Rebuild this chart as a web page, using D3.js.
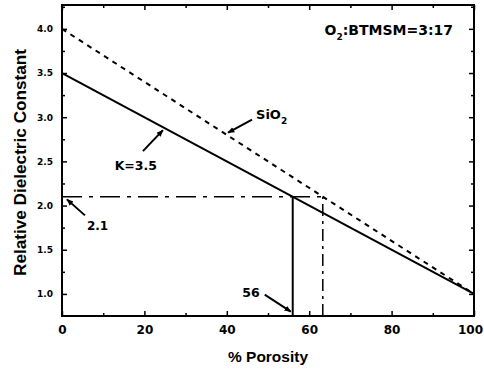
<!DOCTYPE html>
<html>
<head>
<meta charset="utf-8">
<script src="https://cdn.jsdelivr.net/npm/d3@7"></script>
<style>
  body { margin: 0; background: #fff; }
  svg { display: block; }
</style>
</head>
<body>
<div id="chart"></div>
<script>
// data
const porosity = [0, 100];
const kFilm = [3.5, 1.0];      // K=3.5 matrix
const kSiO2 = [4.0, 1.0];      // SiO2 matrix
const targetK = 2.1;
const porFilm = 56;
const porSiO2 = 63.3;
const xMajor = [0, 20, 40, 60, 80, 100];
const xMinor = [10, 30, 50, 70, 90];
const yMajor = [1.0, 1.5, 2.0, 2.5, 3.0, 3.5, 4.0];
const yMinor = [1.25, 1.75, 2.25, 2.75, 3.25, 3.75, 4.25];

const width = 484, height = 374;
const plotLeft = 62, plotRight = 474, plotTop = 5, plotBottom = 316;

const svg = d3.select("#chart").append("svg")
    .attr("width", width)
    .attr("height", height);

svg.append("rect").attr("width", width).attr("height", height).attr("fill", "#fff");

const x = d3.scaleLinear().domain([0, 100]).range([plotLeft, plotRight]);
const y = d3.scaleLinear().domain([0.75, 4.27]).range([plotBottom, plotTop]);

const tickFont = "DejaVu Sans, sans-serif";

// axes: ticks point inward
function styleAxis(g) {
    g.select(".domain").remove();
    g.selectAll("line").attr("stroke", "#000").attr("stroke-width", 1.5);
}

svg.append("g").attr("transform", `translate(0,${plotBottom})`)
    .call(d3.axisBottom(x).tickValues(xMajor).tickSize(-5).tickPadding(9).tickFormat(d3.format("d")))
    .call(styleAxis)
    .call(g => g.selectAll("text").attr("font-family", tickFont).attr("font-weight", "bold").attr("font-size", 12)
        .attr("dx", d => d === 100 ? -4 : 0));
svg.append("g").attr("transform", `translate(0,${plotBottom})`)
    .call(d3.axisBottom(x).tickValues(xMinor).tickSize(-3).tickFormat(""))
    .call(styleAxis);
svg.append("g").attr("transform", `translate(0,${plotTop})`)
    .call(d3.axisTop(x).tickValues(xMajor).tickSize(-5).tickFormat(""))
    .call(styleAxis);
svg.append("g").attr("transform", `translate(0,${plotTop})`)
    .call(d3.axisTop(x).tickValues(xMinor).tickSize(-3).tickFormat(""))
    .call(styleAxis);

svg.append("g").attr("transform", `translate(${plotLeft},0)`)
    .call(d3.axisLeft(y).tickValues(yMajor).tickSize(-5).tickPadding(9).tickFormat(d3.format(".1f")))
    .call(styleAxis)
    .call(g => g.selectAll("text").attr("font-family", tickFont).attr("font-weight", "bold").attr("font-size", 9));
svg.append("g").attr("transform", `translate(${plotLeft},0)`)
    .call(d3.axisLeft(y).tickValues(yMinor).tickSize(-3).tickFormat(""))
    .call(styleAxis);
svg.append("g").attr("transform", `translate(${plotRight},0)`)
    .call(d3.axisRight(y).tickValues(yMajor).tickSize(-5).tickFormat(""))
    .call(styleAxis);
svg.append("g").attr("transform", `translate(${plotRight},0)`)
    .call(d3.axisRight(y).tickValues(yMinor).tickSize(-3).tickFormat(""))
    .call(styleAxis);

// frame
svg.append("rect")
    .attr("x", plotLeft).attr("y", plotTop)
    .attr("width", plotRight - plotLeft).attr("height", plotBottom - plotTop)
    .attr("fill", "none").attr("stroke", "#000").attr("stroke-width", 2);

// lines
const line = d3.line().x(d => x(d[0])).y(d => y(d[1]));

svg.append("path")
    .datum(d3.zip(porosity, kSiO2))
    .attr("d", line)
    .attr("fill", "none").attr("stroke", "#000").attr("stroke-width", 2)
    .attr("stroke-dasharray", "5,5");

svg.append("path")
    .datum(d3.zip(porosity, kFilm))
    .attr("d", line)
    .attr("fill", "none").attr("stroke", "#000").attr("stroke-width", 2);

// guide lines at K = 2.1
svg.append("path")
    .datum([[0, targetK], [porSiO2 + 0.5, targetK]])
    .attr("d", line)
    .attr("fill", "none").attr("stroke", "#000").attr("stroke-width", 1.5)
    .attr("stroke-dasharray", "20,7,4,7");

svg.append("path")
    .datum([[porFilm, 0.75], [porFilm, targetK]])
    .attr("d", line)
    .attr("fill", "none").attr("stroke", "#000").attr("stroke-width", 2);

svg.append("path")
    .datum([[porSiO2, 0.75], [porSiO2, targetK]])
    .attr("d", line)
    .attr("fill", "none").attr("stroke", "#000").attr("stroke-width", 1.5)
    .attr("stroke-dasharray", "12,5,3,5");

// arrow marker
svg.append("defs").append("marker")
    .attr("id", "arrow")
    .attr("viewBox", "0 0 10 10")
    .attr("refX", 9).attr("refY", 5)
    .attr("markerWidth", 7).attr("markerHeight", 7)
    .attr("markerUnits", "userSpaceOnUse")
    .attr("orient", "auto")
    .append("path").attr("d", "M0,1 L10,5 L0,9 Z").attr("fill", "#000");

function leader(tipX, tipY, dx, dy) {
    svg.append("line")
        .attr("x1", tipX + dx).attr("y1", tipY + dy)
        .attr("x2", tipX).attr("y2", tipY)
        .attr("stroke", "#000").attr("stroke-width", 2)
        .attr("marker-end", "url(#arrow)");
}

const labelFont = "DejaVu Sans, sans-serif";
function label(px, py, txt, size, anchor) {
    return svg.append("text")
        .attr("x", px).attr("y", py)
        .attr("font-family", labelFont).attr("font-weight", "bold")
        .attr("font-size", size)
        .attr("text-anchor", anchor || "start")
        .text(txt);
}

// K=3.5 annotation
const kTipP = 24.5;
const kTipY = y(d3.interpolateNumber(kFilm[0], kFilm[1])(kTipP / 100)) + 3;
leader(x(kTipP), kTipY, -20, 21);
label(x(kTipP) - 6, kTipY + 40, "K=3.5", 12.5, "end");

// SiO2 annotation
const sTipP = 40.3;
const sTipY = y(d3.interpolateNumber(kSiO2[0], kSiO2[1])(sTipP / 100)) - 3;
leader(x(sTipP), sTipY, 24, -13);
const sio = label(x(sTipP) + 28, sTipY - 14, "SiO", 13);
sio.append("tspan").attr("dy", 5).attr("font-size", 9).text("2");

// 2.1 annotation
leader(x(1.2), y(2.07), 18, 16);
label(x(1.2) + 20, y(2.07) + 31, "2.1", 12);

// 56 annotation
leader(x(porFilm) - 2, y(0.8), -26, -17);
label(x(porFilm) - 33, y(0.8) - 15, "56", 12.5, "end");

// condition label
const cond = svg.append("text")
    .attr("x", 453).attr("y", 35)
    .attr("font-family", labelFont).attr("font-weight", "bold")
    .attr("font-size", 14).attr("text-anchor", "end");
cond.append("tspan").text("O");
cond.append("tspan").attr("dy", 5).attr("font-size", 9).text("2");
cond.append("tspan").attr("dy", -5).text(":BTMSM=3:17");

// axis titles
svg.append("text")
    .attr("x", (plotLeft + plotRight) / 2).attr("y", 362)
    .attr("text-anchor", "middle")
    .attr("font-family", "Liberation Sans, Arial, sans-serif").attr("font-weight", "bold")
    .attr("font-size", 14)
    .attr("textLength", 80).attr("lengthAdjust", "spacingAndGlyphs")
    .text("% Porosity");

svg.append("text")
    .attr("transform", `translate(26,${(plotTop + plotBottom) / 2 + 2}) rotate(-90)`)
    .attr("text-anchor", "middle")
    .attr("font-family", "Liberation Sans, Arial, sans-serif").attr("font-weight", "bold")
    .attr("font-size", 17)
    .attr("textLength", 227).attr("lengthAdjust", "spacingAndGlyphs")
    .text("Relative Dielectric Constant");
</script>
</body>
</html>
